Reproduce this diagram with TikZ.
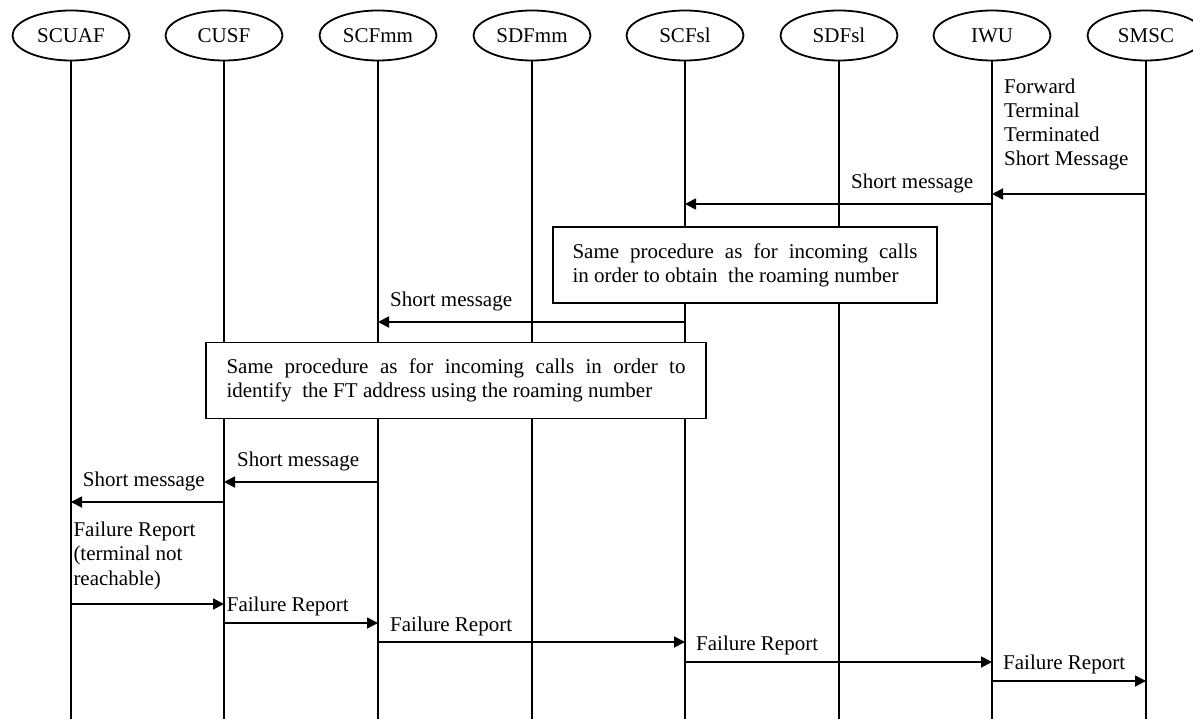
\documentclass[tikz,border=0pt]{standalone}
\usepackage{fontspec}
\setmainfont{Liberation Serif}
\usetikzlibrary{shapes.geometric,arrows.meta}
\begin{document}
\begin{tikzpicture}[x=1pt,y=-1pt,
  every node/.style={font=\fontsize{21}{24.2}\selectfont},
  ent/.style={ellipse,draw,line width=1.8pt,minimum width=117pt,minimum height=50pt,inner sep=0pt},
  life/.style={line width=1.8pt},
  msg/.style={line width=1.8pt,-{Triangle[length=11pt,width=11pt]}},
  lbl/.style={anchor=base west,inner sep=0pt,align=left},
  procbox/.style={draw,fill=white,line width=1.8pt,minimum height=76pt,inner sep=0pt,align=left}
]
\useasboundingbox (0,0) rectangle (1193,719);

% entities
\node[ent] (scuaf) at (71,35.5) {SCUAF};
\node[ent] (cusf)  at (224,35.5) {CUSF};
\node[ent] (scfmm) at (378,35.5) {SCFmm};
\node[ent] (sdfmm) at (532,35.5) {SDFmm};
\node[ent] (scfsl) at (685,35.5) {SCFsl};
\node[ent] (sdfsl) at (839,35.5) {SDFsl};
\node[ent] (iwu)   at (992,35.5) {IWU};
\node[ent] (smsc)  at (1146,35.5) {SMSC};

% lifeline ends
\coordinate (scuafE) at (71,719);
\coordinate (cusfE)  at (224,719);
\coordinate (scfmmE) at (378,719);
\coordinate (sdfmmE) at (532,719);
\coordinate (scfslE) at (685,719);
\coordinate (sdfslE) at (839,719);
\coordinate (iwuE)   at (992,719);
\coordinate (smscE)  at (1146,719);

\draw[life] (scuaf) -- (scuafE);
\draw[life] (cusf) -- (cusfE);
\draw[life] (scfmm) -- (scfmmE);
\draw[life] (sdfmm) -- (sdfmmE);
\draw[life] (scfsl) -- (scfslE);
\draw[life] (sdfsl) -- (sdfslE);
\draw[life] (iwu) -- (iwuE);
\draw[life] (smsc) -- (smscE);

% message levels
\coordinate (y1) at (0,194);
\coordinate (y2) at (0,204);
\coordinate (y3) at (0,322);
\coordinate (y4) at (0,482);
\coordinate (y5) at (0,502);
\coordinate (y6) at (0,604);
\coordinate (y7) at (0,623);
\coordinate (y8) at (0,642);
\coordinate (y9) at (0,662);
\coordinate (y10) at (0,681);

\draw[msg] (smsc |- y1) -- (iwu |- y1);
\node[lbl] (l1) at (1004,165.7) {Forward\\Terminal\\Terminated\\Short Message};

\draw[msg] (iwu |- y2) -- (scfsl |- y2);
\node[lbl] (l2) at (851,188.5) {Short message};

\node[procbox,minimum width=384pt] (proc1) at (745,265)
  {\makebox[345pt][s]{Same procedure as for incoming calls}\\in order to obtain\ \ the roaming number};

\draw[msg] (scfsl |- y3) -- (scfmm |- y3);
\node[lbl] (l3) at (390,306.7) {Short message};

\node[procbox,minimum width=500pt] (proc2) at (456,380.5)
  {\makebox[459pt][s]{Same procedure as for incoming calls in order to}\\identify\ \ the FT address using the roaming number};

\draw[msg] (scfmm |- y4) -- (cusf |- y4);
\node[lbl] (l4) at (237,466.7) {Short message};

\draw[msg] (cusf |- y5) -- (scuaf |- y5);
\node[lbl] (l5) at (82.7,486) {Short message};

\draw[msg] (scuaf |- y6) -- (cusf |- y6);
\node[lbl] (l6) at (73.3,585) {Failure Report\\(terminal not\\reachable)};

\draw[msg] (cusf |- y7) -- (scfmm |- y7);
\node[lbl] (l7) at (226.7,611.7) {Failure Report};

\draw[msg] (scfmm |- y8) -- (scfsl |- y8);
\node[lbl] (l8) at (390,631) {Failure Report};

\draw[msg] (scfsl |- y9) -- (iwu |- y9);
\node[lbl] (l9) at (696,650.5) {Failure Report};

\draw[msg] (iwu |- y10) -- (smsc |- y10);
\node[lbl] (l10) at (1003,669.9) {Failure Report};
\end{tikzpicture}
\end{document}
